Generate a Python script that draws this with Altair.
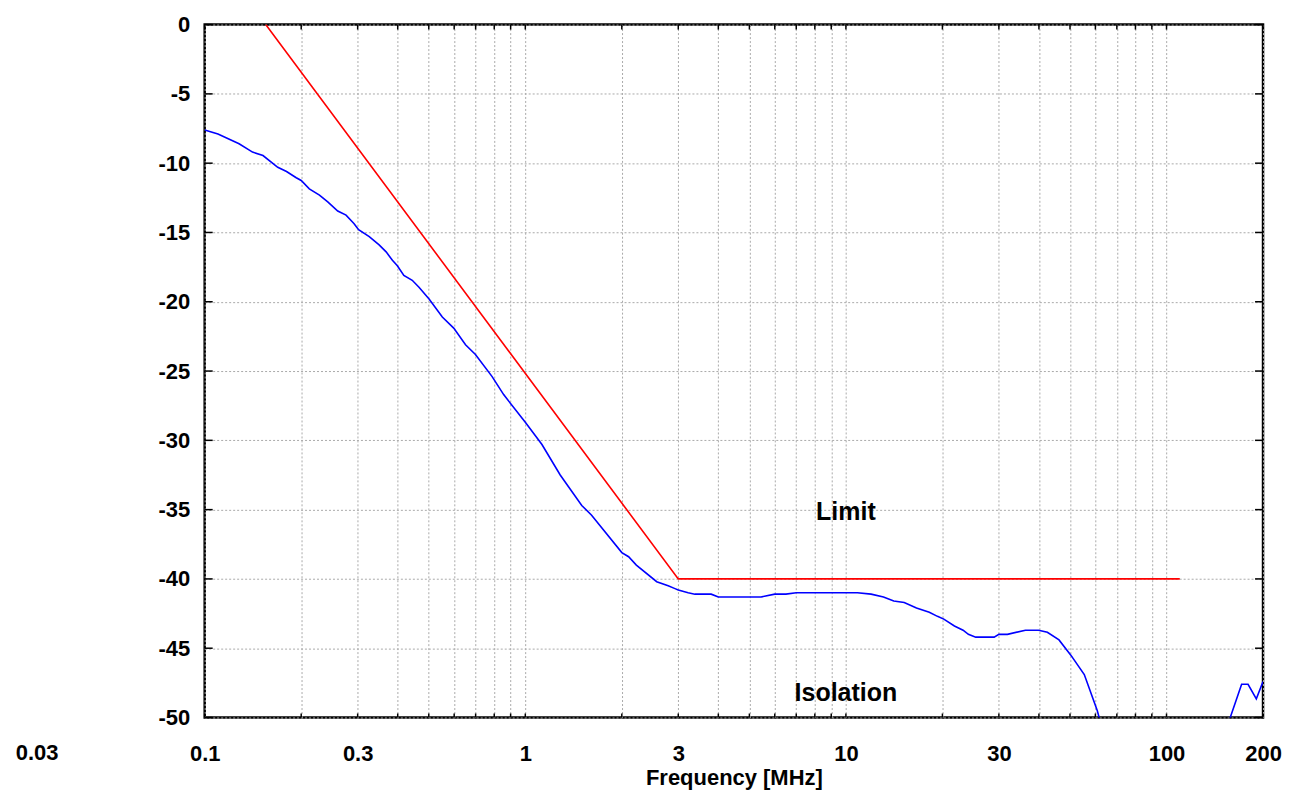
import altair as alt
import pandas as pd

# Isolation curve (frequency in MHz, level in dB)
iso_freq = [0.1, 0.11, 0.128, 0.141, 0.152, 0.169, 0.18, 0.193, 0.2, 0.212, 0.228, 0.242,
            0.26, 0.276, 0.292, 0.302, 0.326, 0.35, 0.368, 0.385, 0.399, 0.418, 0.444, 0.466,
            0.501, 0.551, 0.598, 0.651, 0.699, 0.788, 0.856, 1.0, 1.127, 1.285, 1.5, 1.61,
            2.0, 2.1, 2.22, 2.57, 2.79, 2.93, 3.0, 3.22, 3.38, 3.8, 4.0, 5.44, 6.0, 6.5, 7.0,
            10.86, 11.98, 13.1, 14.1, 15.2, 16.6, 18.2, 19.3, 20.2, 21.8, 23.2, 24.1, 25.4,
            29.0, 30.0, 31.9, 36.3, 39.9, 42.5, 46.2, 50.3, 55.4, 60.8, 66.0, 80.0, 120.0,
            150.0, 157.5, 171.5, 179.6, 190.6, 200.0]
iso_db = [-7.6, -7.9, -8.6, -9.2, -9.45, -10.3, -10.6, -11.05, -11.25, -11.85, -12.3, -12.8,
          -13.45, -13.75, -14.35, -14.8, -15.3, -15.9, -16.4, -17.0, -17.4, -18.1, -18.45, -18.95,
          -19.8, -21.1, -21.9, -23.1, -23.8, -25.4, -26.7, -28.7, -30.3, -32.5, -34.7, -35.4,
          -38.1, -38.4, -39.0, -40.2, -40.5, -40.7, -40.8, -41.0, -41.1, -41.1, -41.3, -41.3,
          -41.1, -41.1, -41.0, -41.0, -41.1, -41.3, -41.6, -41.7, -42.1, -42.4, -42.7, -42.9,
          -43.4, -43.7, -44.0, -44.2, -44.2, -44.0, -44.0, -43.7, -43.7, -43.85, -44.4, -45.5,
          -46.9, -49.5, -52.5, -57.0, -58.0, -53.0, -50.1, -47.6, -47.6, -48.65, -47.4]

# Limit line
lim_freq = [0.155, 3.0, 110.0]
lim_db = [0.0, -40.0, -40.0]

# Axis values
x_labels = [0.1, 0.3, 1, 3, 10, 30, 100, 200]
x_grid = [0.1, 0.2, 0.3, 0.4, 0.5, 0.6, 0.7, 0.8, 0.9,
          1, 2, 3, 4, 5, 6, 7, 8, 9,
          10, 20, 30, 40, 50, 60, 70, 80, 90,
          100, 200]
y_ticks = [-50, -45, -40, -35, -30, -25, -20, -15, -10, -5, 0]

# Annotations
ann_text = ["Limit", "Isolation"]
ann_freq = [10, 10]
ann_db = [-35.2, -48.2]
extra_label = ["0.03"]
extra_freq = [0.03]

W, H = 1060, 694
FONT = "Liberation Sans"
FS = 22
LP = 26

iso = pd.DataFrame({"f": iso_freq, "db": iso_db})
lim = pd.DataFrame({"f": lim_freq, "db": lim_db})
gx = pd.DataFrame({"f": x_grid})
gy = pd.DataFrame({"db": y_ticks})
ann = pd.DataFrame({"f": ann_freq, "db": ann_db, "t": ann_text})
extra = pd.DataFrame({"f": extra_freq, "t": extra_label})

xs = alt.Scale(type="log", domain=[0.1, 200], nice=False)
ys = alt.Scale(domain=[-50, 0], nice=False)

label_list = ",".join(str(v) for v in x_labels)
xaxis = alt.Axis(
    values=x_grid, grid=True, gridColor="#aaaaaa", gridDash=[2, 2], gridWidth=1,
    ticks=False, tickSize=0, domain=False,
    labelExpr=f"indexof([{label_list}], datum.value) >= 0 ? datum.value + '' : ''",
    labelFont=FONT, labelFontSize=FS, labelFontWeight="bold", labelColor="black",
    labelPadding=LP, labelFlush=False, labelOverlap=False,
    title="Frequency [MHz]", titleFont=FONT, titleFontSize=FS, titleFontWeight="bold",
    titleColor="black", titlePadding=3,
)
yaxis = alt.Axis(
    values=y_ticks, grid=True, gridColor="#aaaaaa", gridDash=[2, 2], gridWidth=1,
    ticks=False, tickSize=0, domain=False,
    labelExpr="datum.value + ''",
    labelFont=FONT, labelFontSize=FS, labelFontWeight="bold", labelColor="black",
    labelPadding=15, labelFlush=False, labelOverlap=False, title=None,
)


def X(field="f:Q"):
    return alt.X(field, scale=xs, axis=xaxis)


def Y(field="db:Q"):
    return alt.Y(field, scale=ys, axis=yaxis)


iso_line = alt.Chart(iso).mark_line(color="#0000ff", strokeWidth=1.6, clip=True).encode(
    x=X(), y=Y())
lim_line = alt.Chart(lim).mark_line(color="#ff0000", strokeWidth=1.6, clip=True).encode(
    x=X(), y=Y())
top_ticks = alt.Chart(gx).mark_rule(color="black", strokeWidth=1.5).encode(
    x=X(), y=alt.value(0), y2=alt.value(5))
bot_ticks = alt.Chart(gx).mark_rule(color="black", strokeWidth=1.5).encode(
    x=X(), y=alt.value(H), y2=alt.value(H - 4))
left_ticks = alt.Chart(gy).mark_rule(color="black", strokeWidth=1.5).encode(
    y=Y(), x=alt.value(0), x2=alt.value(8))
right_ticks = alt.Chart(gy).mark_rule(color="black", strokeWidth=1.5).encode(
    y=Y(), x=alt.value(W), x2=alt.value(W - 8))
ann_text_mark = alt.Chart(ann).mark_text(
    font=FONT, fontSize=25, fontWeight="bold", color="black").encode(
    x=X(), y=Y(), text="t:N")
extra_mark = alt.Chart(extra).mark_text(
    font=FONT, fontSize=FS, fontWeight="bold", color="black", baseline="top").encode(
    x=X(), y=alt.value(H + LP), text="t:N")

chart = alt.layer(
    iso_line, lim_line, top_ticks, bot_ticks, left_ticks, right_ticks, ann_text_mark, extra_mark
).properties(
    width=W, height=H,
    autosize=alt.AutoSizeParams(type="none"),
    padding={"left": 197, "top": 16, "right": 19, "bottom": 76},
    background="white",
).configure_view(stroke="black", strokeWidth=2.5)

chart.save("out.html", embed_options={"renderer": "svg", "actions": False})
